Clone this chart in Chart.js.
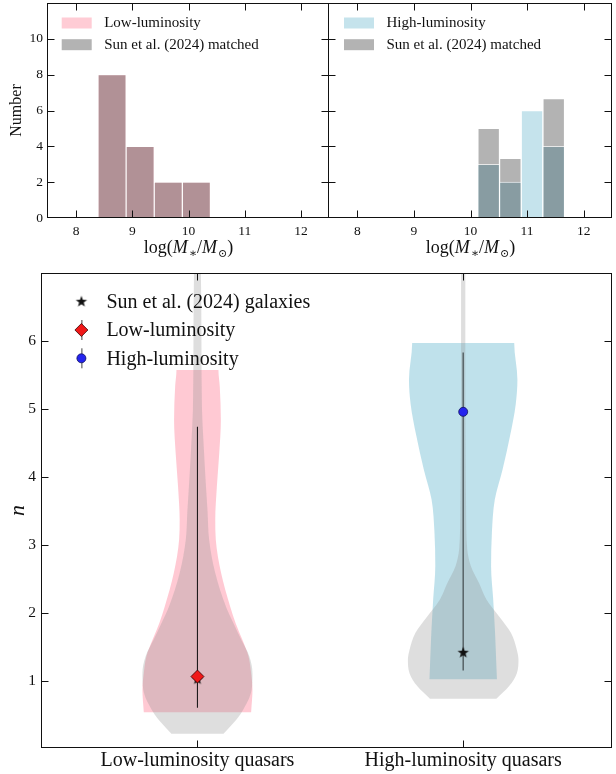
<!DOCTYPE html>
<html>
<head>
<meta charset="utf-8">
<script src="https://cdn.jsdelivr.net/npm/chart.js@4.4.0/dist/chart.umd.min.js"></script>
<style>
  html, body { margin: 0; padding: 0; background: #fff; }
  #wrap { position: relative; width: 616px; height: 774px; overflow: hidden; background: #fff; }
  #wrap canvas { position: absolute; }
</style>
</head>
<body>
<div id="wrap">
  <canvas id="histLow" width="330" height="275" style="left:0;top:-13px"></canvas>
  <canvas id="histHigh" width="316" height="275" style="left:300px;top:-13px"></canvas>
  <canvas id="violins" width="616" height="521" style="left:0;top:253px"></canvas>
</div>
<script>
// stellar mass histograms
const massTicks = [8, 9, 10, 11, 12];
const countTicks = [0, 2, 4, 6, 8, 10];
const lowEdges = [8.39, 8.89, 9.39, 9.89, 10.39];
const lowCounts = [8, 4, 2, 2];
const lowMatched = [8, 4, 2, 2];
const highEdges = [10.13, 10.513, 10.896, 11.279, 11.662];
const highCounts = [3, 2, 6, 4];
const highMatched = [5, 3.33, 0, 6.67];

// Sersic index violins (levels in n, half-widths in x units)
const groups = ['Low-luminosity quasars', 'High-luminosity quasars'];
const nTicks = [1, 2, 3, 4, 5, 6];
const lowQsoN = [0.545, 0.88, 1.12, 1.37, 1.61, 1.85, 2.10, 2.59, 3.08, 3.37, 3.86, 4.35, 4.84, 5.33, 5.574];
const lowQsoW = [0.202, 0.207, 0.202, 0.192, 0.169, 0.144, 0.123, 0.089, 0.069, 0.067, 0.073, 0.082, 0.088, 0.084, 0.079];
const lowSunN = [0.23, 0.39, 0.55, 0.88, 1.12, 1.37, 1.61, 1.85, 2.10, 2.59, 3.08, 3.5, 4.0, 4.5, 5.0, 6.0, 7.0, 7.5, 8.0];
const lowSunW = [0.098, 0.136, 0.167, 0.204, 0.207, 0.195, 0.165, 0.136, 0.107, 0.067, 0.044, 0.038, 0.030, 0.023, 0.017, 0.015, 0.013, 0.009, 0.002];
const highQsoN = [1.03, 1.22, 1.71, 2.20, 2.69, 3.18, 3.67, 4.11, 4.60, 5.08, 5.43, 5.97];
const highQsoW = [0.127, 0.125, 0.120, 0.113, 0.105, 0.108, 0.119, 0.148, 0.176, 0.198, 0.204, 0.192];
const highSunN = [0.745, 0.93, 1.12, 1.32, 1.46, 1.71, 1.95, 2.20, 2.44, 2.69, 2.95, 3.5, 4.5, 5.5, 6.5, 7.0, 7.5, 8.0];
const highSunW = [0.125, 0.173, 0.202, 0.208, 0.202, 0.180, 0.136, 0.088, 0.060, 0.029, 0.015, 0.011, 0.009, 0.008, 0.008, 0.008, 0.005, 0.001];
const qsoMedian = [1.07, 4.96];
const qsoErrLo = [0.61, 1.16];
const qsoErrHi = [4.74, 5.83];
const sunMedian = [1.03, 1.42];
const legendLabels = ['Sun et al. (2024) galaxies', 'Low-luminosity', 'High-luminosity'];

const SERIF = '"Liberation Serif", "DejaVu Serif", serif';
Chart.defaults.font.family = SERIF;
Chart.defaults.color = '#111';

const PINK = '#ffccd5', GREY = '#b3b3b3', BLUE = '#c5e3ec';
const MAUVE = '#b19196', SLATE = '#889ca2';

// filled five-point star used as a point style
function starMarker(r) {
  const c = document.createElement('canvas');
  const s = Math.ceil(2 * r + 2);
  c.width = s; c.height = s;
  const g = c.getContext('2d');
  g.translate(s / 2, s / 2);
  g.beginPath();
  for (let i = 0; i < 10; i++) {
    const rad = i % 2 ? r * 0.4 : r;
    const a = -Math.PI / 2 + i * Math.PI / 5;
    g.lineTo(rad * Math.cos(a), rad * Math.sin(a));
  }
  g.closePath();
  g.fillStyle = '#111';
  g.fill();
  return c;
}
const star = starMarker(6);

// box with inward ticks on all four sides
const frameTicks = {
  id: 'frameTicks',
  afterDraw(chart) {
    const {ctx, chartArea: a, scales: {x, y}} = chart;
    const L = Math.round(a.left) - 0.5, R = Math.round(a.right) - 0.5;
    const T = Math.round(a.top) + 0.5, B = Math.round(a.bottom) - 0.5;
    const len = 7;
    ctx.save();
    ctx.strokeStyle = '#111';
    ctx.lineWidth = 1;
    ctx.strokeRect(L, T, R - L, B - T);
    ctx.beginPath();
    x.ticks.forEach(t => {
      const px = Math.round(x.getPixelForValue(t.value)) + 0.5;
      if (px <= L + 1 || px >= R - 1) return;
      ctx.moveTo(px, B); ctx.lineTo(px, B - len);
      ctx.moveTo(px, T); ctx.lineTo(px, T + len);
    });
    y.ticks.forEach(t => {
      const py = Math.round(y.getPixelForValue(t.value)) + 0.5;
      if (py <= T + 1 || py >= B - 1) return;
      ctx.moveTo(L, py); ctx.lineTo(L + len, py);
      ctx.moveTo(R, py); ctx.lineTo(R - len, py);
    });
    ctx.stroke();
    ctx.restore();
  }
};

// colour-patch legend of the histogram panels
const swatchLegend = {
  id: 'swatchLegend',
  afterDraw(chart, args, opts) {
    const {ctx, chartArea: a} = chart;
    ctx.save();
    ctx.font = '15px ' + SERIF;
    ctx.textBaseline = 'middle';
    opts.items.forEach((it, i) => {
      const cy = a.top + 20 + i * 21.7;
      ctx.fillStyle = it[1];
      ctx.fillRect(opts.x, cy - 5.5, 30, 11);
      ctx.fillStyle = '#111';
      ctx.fillText(it[0], opts.x + 42.5, cy + 0.5);
    });
    ctx.restore();
  }
};

// log(M*/Msun) axis label with italic symbols and subscripts
const massTitle = {
  id: 'massTitle',
  afterDraw(chart) {
    const {ctx, chartArea: a} = chart;
    const parts = [
      ['log(', '', 18, 0], ['M', 'italic ', 18, 0], ['\u2217', '', 12, 4],
      ['/', '', 18, 0], ['M', 'italic ', 18, 0], ['\u2299', '', 11, 4], [')', '', 18, 0]
    ];
    ctx.save();
    ctx.fillStyle = '#111';
    ctx.textBaseline = 'alphabetic';
    let w = 0;
    parts.forEach(p => { ctx.font = p[1] + p[2] + 'px ' + SERIF; w += ctx.measureText(p[0]).width + (p[1] ? 1 : 0); });
    let x = (a.left + a.right) / 2 - w / 2;
    const base = a.bottom + 35;
    parts.forEach(p => {
      ctx.font = p[1] + p[2] + 'px ' + SERIF;
      ctx.fillText(p[0], x, base + p[3]);
      x += ctx.measureText(p[0]).width + (p[1] ? 1 : 0);
    });
    ctx.restore();
  }
};

function histDatasets(edges, counts, matched, colour, overlap) {
  const centres = counts.map((_, i) => (edges[i] + edges[i + 1]) / 2);
  const pts = arr => arr.map((v, i) => ({x: centres[i], y: v}));
  const common = {
    type: 'bar', grouped: false, barPercentage: 1, categoryPercentage: 1,
    borderWidth: 1, borderColor: 'rgba(255,255,255,0.45)', borderSkipped: 'bottom'
  };
  return [
    {...common, data: pts(counts.map((c, i) => Math.min(c, matched[i]))), backgroundColor: overlap, order: 1},
    {...common, data: pts(counts), backgroundColor: colour, order: 2},
    {...common, data: pts(matched), backgroundColor: GREY, order: 3}
  ];
}

function histOptions(o) {
  return {
    responsive: false,
    animation: false,
    layout: {padding: o.padding, autoPadding: false},
    plugins: {
      legend: {display: false},
      tooltip: {enabled: false},
      swatchLegend: {items: o.legend, x: o.legendX}
    },
    scales: {
      x: {
        type: 'linear', min: 7.5, max: 12.5, offset: false,
        grid: {display: false, drawTicks: false}, border: {display: false},
        ticks: {font: {size: 13.5}, color: '#111', padding: 5, maxRotation: 0},
        afterBuildTicks: s => { s.ticks = massTicks.map(v => ({value: v})); },
        afterFit: s => { s.height = 44; }
      },
      y: {
        type: 'linear', min: 0, max: 12,
        grid: {display: false, drawTicks: false}, border: {display: false},
        ticks: {display: o.showY, font: {size: 13.5}, color: '#111', padding: 5},
        title: {display: o.showY, text: 'Number', font: {size: 16}, color: '#111', padding: {top: 7, bottom: 0}},
        afterBuildTicks: s => { s.ticks = countTicks.map(v => ({value: v})); },
        afterFit: s => { s.width = o.yWidth; }
      }
    }
  };
}

new Chart(document.getElementById('histLow'), {
  type: 'bar',
  data: {datasets: histDatasets(lowEdges, lowCounts, lowMatched, PINK, MAUVE)},
  options: histOptions({
    padding: {left: 0, top: 16, right: 1, bottom: 0}, yWidth: 48, showY: true,
    legend: [['Low-luminosity', PINK], ['Sun et al. (2024) matched', GREY]], legendX: 61.7
  }),
  plugins: [frameTicks, swatchLegend, massTitle]
});

new Chart(document.getElementById('histHigh'), {
  type: 'bar',
  data: {datasets: histDatasets(highEdges, highCounts, highMatched, BLUE, SLATE)},
  options: histOptions({
    padding: {left: 0, top: 16, right: 4, bottom: 0}, yWidth: 29, showY: false,
    legend: [['High-luminosity', BLUE], ['Sun et al. (2024) matched', GREY]], legendX: 44
  }),
  plugins: [frameTicks, swatchLegend, massTitle]
});

// closed outline of one violin: right side upwards, left side back down
function violinOutline(pos, levels, halfWidths) {
  const right = levels.map((n, i) => ({x: pos + halfWidths[i], y: n}));
  const left = levels.map((n, i) => ({x: pos - halfWidths[i], y: n})).reverse();
  return right.concat(left);
}

const shape = {
  showLine: true, fill: 'shape', indexAxis: 'y', cubicInterpolationMode: 'monotone',
  borderColor: 'rgba(0,0,0,0)', borderWidth: 0, pointRadius: 0
};

// marker legend in the upper left of the violin panel
const markerLegend = {
  id: 'markerLegend',
  afterDraw(chart) {
    const {ctx, chartArea: a} = chart;
    const mx = a.left + 39.4, tx = a.left + 64.4;
    const rows = [28.7, 57, 85.3].map(v => a.top + v);
    ctx.save();
    ctx.drawImage(star, mx - star.width / 2, rows[0] - star.height / 2);
    ctx.lineWidth = 1;
    ctx.strokeStyle = '#444';
    ctx.beginPath();
    ctx.moveTo(mx + 0.5, rows[1] - 10); ctx.lineTo(mx + 0.5, rows[1] + 10);
    ctx.moveTo(mx + 0.5, rows[2] - 10); ctx.lineTo(mx + 0.5, rows[2] + 10);
    ctx.stroke();
    ctx.fillStyle = '#f01818'; ctx.strokeStyle = '#3a0000'; ctx.lineWidth = 0.8;
    Chart.helpers.drawPoint(ctx, {pointStyle: 'rectRot', radius: 6.5, borderWidth: 0.8}, mx, rows[1]);
    ctx.fillStyle = '#2424ee'; ctx.strokeStyle = '#101060';
    Chart.helpers.drawPoint(ctx, {pointStyle: 'circle', radius: 4.5, borderWidth: 0.8}, mx, rows[2]);
    ctx.font = '20px ' + SERIF;
    ctx.fillStyle = '#111';
    ctx.textBaseline = 'middle';
    legendLabels.forEach((t, i) => ctx.fillText(t, tx, rows[i] + 1));
    ctx.restore();
  }
};

new Chart(document.getElementById('violins'), {
  type: 'scatter',
  data: {
    datasets: [
      {...shape, data: violinOutline(1, lowQsoN, lowQsoW), backgroundColor: 'rgba(255,192,203,0.85)', order: 6},
      {...shape, data: violinOutline(2, highQsoN, highQsoW), backgroundColor: 'rgba(173,216,230,0.78)', order: 6},
      {...shape, data: violinOutline(1, lowSunN, lowSunW), backgroundColor: 'rgba(145,145,145,0.3)', order: 5},
      {...shape, data: violinOutline(2, highSunN, highSunW), backgroundColor: 'rgba(145,145,145,0.3)', order: 5},
      {showLine: true, data: [{x: 1, y: qsoErrLo[0]}, {x: 1, y: qsoErrHi[0]}], borderColor: 'rgba(10,10,10,0.9)', borderWidth: 1.1, pointRadius: 0, order: 4},
      {showLine: true, data: [{x: 2, y: qsoErrLo[1]}, {x: 2, y: qsoErrHi[1]}], borderColor: 'rgba(0,0,0,0.55)', borderWidth: 1.4, pointRadius: 0, order: 4},
      {data: sunMedian.map((n, i) => ({x: i + 1, y: n})), pointStyle: star, pointRadius: 6, order: 3},
      {data: [{x: 1, y: qsoMedian[0]}], pointStyle: 'rectRot', pointRadius: 6.5, backgroundColor: '#f01818', borderColor: '#3a0000', borderWidth: 0.8, order: 2},
      {data: [{x: 2, y: qsoMedian[1]}], pointStyle: 'circle', pointRadius: 4.5, backgroundColor: '#2424ee', borderColor: '#101060', borderWidth: 0.8, order: 1}
    ]
  },
  options: {
    responsive: false,
    animation: false,
    layout: {padding: {left: 0, top: 20, right: 4, bottom: 0}, autoPadding: false},
    plugins: {legend: {display: false}, tooltip: {enabled: false}},
    scales: {
      x: {
        type: 'linear', min: 0.415, max: 2.56,
        grid: {display: false, drawTicks: false}, border: {display: false},
        ticks: {font: {size: 20}, color: '#111', padding: 1, maxRotation: 0, autoSkip: false,
                callback: v => groups[v - 1]},
        afterBuildTicks: s => { s.ticks = groups.map((_, i) => ({value: i + 1})); },
        afterFit: s => { s.height = 26; }
      },
      y: {
        type: 'linear', min: 0.02, max: 7.0,
        grid: {display: false, drawTicks: false}, border: {display: false},
        ticks: {font: {size: 15.5}, color: '#111', padding: 6},
        title: {display: true, text: 'n', font: {size: 22, style: 'italic'}, color: '#111', padding: {top: 5, bottom: 0}},
        afterBuildTicks: s => { s.ticks = nTicks.map(v => ({value: v})); },
        afterFit: s => { s.width = 42; }
      }
    }
  },
  plugins: [frameTicks, markerLegend]
});
</script>
</body>
</html>
